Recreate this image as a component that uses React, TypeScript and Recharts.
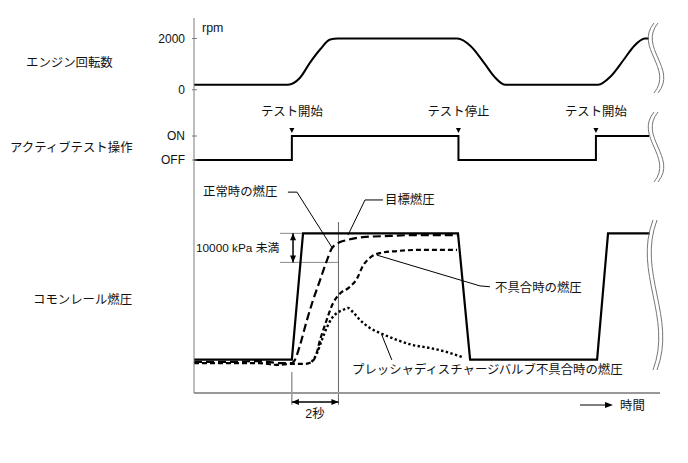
import { LineChart, Line, XAxis, YAxis, ReferenceLine, ReferenceDot } from 'recharts'

// ─── Data ─────────────────────────────────────────────────────────────────────

// time axis in seconds
const rpmTime = [0, 4.03, 4.55, 4.98, 5.41, 5.84, 6.18, 11.3, 11.88, 12.45, 12.88, 13.35, 17.35, 17.88, 18.45, 18.88, 19.35, 19.53]
const rpmValue = [200, 200, 470, 1060, 1570, 1960, 2000, 2000, 1700, 1050, 520, 200, 200, 520, 1180, 1700, 2000, 2000]

const testTime = [0, 4.2, 11.35, 17.25, 19.53]
const testState = [0, 1, 0, 1, 1] // 0 = OFF, 1 = ON
const testEventTime = [4.2, 11.35, 17.25]
const testEventLabel = ['テスト開始', 'テスト停止', 'テスト開始']

// common rail pressure, kPa
const targetTime = [0, 4.2, 4.68, 11.33, 11.85, 17.3, 17.77, 19.57]
const targetKpa = [34500, 34500, 78000, 78000, 34500, 34500, 78000, 78000]

const normalTime = [0, 1.5, 2.8, 3.7, 4.2, 4.33, 4.55, 4.85, 5.11, 5.41, 5.71, 5.92, 6.27, 6.57, 7.25, 8.4, 9.4, 11.33]
const normalKpa = [33700, 33700, 34000, 33300, 33300, 34400, 39500, 48200, 55000, 61900, 68800, 72900, 75000, 75700, 76700, 77100, 77400, 77400]

const faultTime = [0, 2.8, 3.55, 4.2, 4.75, 5.05, 5.24, 5.41, 5.62, 5.97, 6.27, 6.65, 7.0, 7.25, 7.55, 7.98, 8.7, 9.7, 11.29]
const faultKpa = [33300, 33300, 32700, 33000, 33000, 33700, 36100, 41300, 46400, 54000, 57300, 59300, 62500, 66800, 69600, 71200, 71900, 72300, 72300]

const pdvTime = [5.05, 5.28, 5.49, 5.71, 5.92, 6.14, 6.39, 6.61, 6.82, 7.12, 7.55, 7.98, 8.71, 9.4, 10.13, 10.86, 11.5]
const pdvKpa = [33700, 36800, 41300, 45700, 48800, 50600, 51600, 52300, 50900, 48200, 45400, 43700, 41300, 39500, 38500, 37100, 35400]

const rpmTicks = [0, 2000]
const testTicks = [0, 1]
const testTickLabel = ['OFF', 'ON']

const rpmData = rpmTime.map((t, i) => ({ t, v: rpmValue[i] }))
const testData = testTime.map((t, i) => ({ t, v: testState[i] }))
const targetData = targetTime.map((t, i) => ({ t, v: targetKpa[i] }))
const normalData = normalTime.map((t, i) => ({ t, v: normalKpa[i] }))
const faultData = faultTime.map((t, i) => ({ t, v: faultKpa[i] }))
const pdvData = pdvTime.map((t, i) => ({ t, v: pdvKpa[i] }))

// ─── Styles ──────────────────────────────────────────────────────────────────

const FONT = '"Liberation Sans", "Noto Sans CJK JP", sans-serif'
const AXIS = '#7d7d7d'
const DIM = '#8a8a8a'
const W = 688
const TIME_DOMAIN: [number, number] = [0, 20]
const MARGIN_R = 28
const AXIS_W = 194

// ─── Helpers ─────────────────────────────────────────────────────────────────

function makeTick(labelFor: (v: number) => string, size: number, gap: number) {
  return (p: any) => {
    const ax = p.x + size + gap
    return (
      <g>
        <line x1={ax - 2} x2={ax + 3} y1={p.y} y2={p.y} stroke={AXIS} />
        <text x={p.x} y={p.y} textAnchor="end" dominantBaseline="central" fontSize={12} fontFamily={FONT} fill="#111">
          {labelFor(p.payload.value)}
        </text>
      </g>
    )
  }
}

function arrow(both: boolean, color = '#000') {
  return (p: any) => {
    const { x1, y1, x2, y2 } = p
    const len = Math.hypot(x2 - x1, y2 - y1) || 1
    const ux = (x2 - x1) / len
    const uy = (y2 - y1) / len
    const head = (x: number, y: number, sx: number, sy: number) =>
      `${x},${y} ${x - sx * 7 - sy * 3},${y - sy * 7 + sx * 3} ${x - sx * 7 + sy * 3},${y - sy * 7 - sx * 3}`
    return (
      <g>
        <line x1={x1} y1={y1} x2={x2} y2={y2} stroke={color} strokeWidth={1.5} />
        <polygon points={head(x2, y2, ux, uy)} fill={color} />
        {both && <polygon points={head(x1, y1, -ux, -uy)} fill={color} />}
      </g>
    )
  }
}

function squiggle(x: number, y0: number, y1: number) {
  const h = y1 - y0
  const d = (dx: number) =>
    `M ${x + dx} ${y0} C ${x + dx - 20} ${y0 + h * 0.35}, ${x + dx + 20} ${y0 + h * 0.65}, ${x + dx} ${y1}`
  return (
    <g fill="none" stroke="#777" strokeWidth={1}>
      <path d={d(0)} />
      <path d={d(4)} />
    </g>
  )
}

const seg = (a: [number, number], b: [number, number]) => [
  { x: a[0], y: a[1] },
  { x: b[0], y: b[1] },
]

// ─── Component ────────────────────────────────────────────────────────────────

export default function App() {
  const txt = { fontSize: 12.4, fontFamily: FONT, fill: '#111', dominantBaseline: 'central' as const }

  return (
    <div style={{ position: 'absolute', left: 0, top: 0, width: W, height: 463, background: '#fff' }}>
      {/* engine speed */}
      <div style={{ position: 'absolute', left: 0, top: 0 }}>
        <LineChart width={W} height={100} margin={{ top: 18, right: MARGIN_R, bottom: 0, left: 0 }}>
          <XAxis type="number" dataKey="t" domain={TIME_DOMAIN} allowDataOverflow hide />
          <YAxis
            type="number"
            domain={[-400, 2800]}
            allowDataOverflow
            ticks={rpmTicks}
            width={AXIS_W}
            tickSize={2}
            tickMargin={7}
            tickLine={false}
            axisLine={{ stroke: AXIS }}
            tick={makeTick((v) => String(v), 2, 7)}
          />
          <Line data={rpmData} dataKey="v" type="monotone" stroke="#000" strokeWidth={2} dot={false} isAnimationActive={false} />
        </LineChart>
      </div>

      {/* active test */}
      <div style={{ position: 'absolute', left: 0, top: 100 }}>
        <LineChart width={W} height={84} margin={{ top: 0, right: MARGIN_R, bottom: 0, left: 0 }}>
          <XAxis type="number" dataKey="t" domain={TIME_DOMAIN} allowDataOverflow hide />
          <YAxis
            type="number"
            domain={[-1, 2.5]}
            allowDataOverflow
            ticks={testTicks}
            width={AXIS_W}
            tickSize={2}
            tickMargin={7}
            tickLine={false}
            axisLine={{ stroke: AXIS }}
            tick={makeTick((v) => testTickLabel[v], 2, 7)}
          />
          <Line data={testData} dataKey="v" type="stepAfter" stroke="#000" strokeWidth={2} dot={false} isAnimationActive={false} />
          {testEventTime.map((t, i) => (
            <ReferenceDot
              key={i}
              x={t}
              y={1}
              ifOverflow="visible"
              shape={(p: any) => (
                <g>
                  <polygon points={`${p.cx - 2.5},${p.cy - 8} ${p.cx + 2.5},${p.cy - 8} ${p.cx},${p.cy - 3}`} fill="#000" />
                  <text x={p.cx} y={p.cy - 24} textAnchor="middle" {...txt}>
                    {testEventLabel[i]}
                  </text>
                </g>
              )}
            />
          ))}
        </LineChart>
      </div>

      {/* common rail pressure */}
      <div style={{ position: 'absolute', left: 0, top: 184 }}>
        <LineChart width={W} height={279} margin={{ top: 0, right: MARGIN_R, bottom: 50, left: 0 }}>
          <XAxis
            type="number"
            dataKey="t"
            domain={TIME_DOMAIN}
            allowDataOverflow
            height={20}
            tick={false}
            tickLine={false}
            axisLine={{ stroke: '#999', strokeWidth: 2 }}
          />
          <YAxis
            type="number"
            domain={[23000, 95000]}
            allowDataOverflow
            width={AXIS_W}
            tick={false}
            tickLine={false}
            axisLine={{ stroke: AXIS }}
          />

          {/* 10000 kPa dimension */}
          <ReferenceLine segment={seg([3.69, 78000], [4.68, 78000])} stroke={DIM} ifOverflow="visible" />
          <ReferenceLine segment={seg([3.69, 68000], [6.2, 68000])} stroke={DIM} ifOverflow="visible" />
          <ReferenceLine segment={seg([4.25, 78000], [4.25, 68000])} ifOverflow="visible" shape={arrow(true)} />
          {/* 2 s dimension */}
          <ReferenceLine segment={seg([6.2, 81900], [6.2, 18900])} stroke="#666" ifOverflow="visible" />
          <ReferenceLine segment={seg([4.2, 30200], [4.2, 18900])} stroke="#666" ifOverflow="visible" />
          <ReferenceLine segment={seg([4.2, 19900], [6.2, 19900])} ifOverflow="visible" shape={arrow(true)} />

          {/* leaders */}
          <ReferenceLine segment={seg([4.03, 92200], [4.42, 92200])} stroke="#000" ifOverflow="visible" />
          <ReferenceLine segment={seg([4.42, 92200], [5.94, 72900])} stroke="#000" ifOverflow="visible" />
          <ReferenceLine segment={seg([8.11, 89500], [7.34, 89500])} stroke="#000" ifOverflow="visible" />
          <ReferenceLine segment={seg([7.34, 89500], [6.61, 77400])} stroke="#000" ifOverflow="visible" />
          <ReferenceLine segment={seg([7.85, 70500], [12.27, 59900])} stroke="#000" ifOverflow="visible" />
          <ReferenceLine segment={seg([12.27, 59900], [12.7, 59600])} stroke="#000" ifOverflow="visible" />
          <ReferenceLine segment={seg([8.06, 43000], [8.49, 34400])} stroke="#000" ifOverflow="visible" />

          <Line data={targetData} dataKey="v" type="linear" stroke="#000" strokeWidth={2.2} dot={false} isAnimationActive={false} />
          <Line data={normalData} dataKey="v" type="monotone" stroke="#000" strokeWidth={2.2} strokeDasharray="8 4" dot={false} isAnimationActive={false} />
          <Line data={faultData} dataKey="v" type="monotone" stroke="#000" strokeWidth={2.2} strokeDasharray="5 3" dot={false} isAnimationActive={false} />
          <Line data={pdvData} dataKey="v" type="monotone" stroke="#000" strokeWidth={2.4} strokeDasharray="2.4 2.4" dot={false} isAnimationActive={false} />
        </LineChart>
      </div>

      {/* texts and decorations */}
      <svg width={W} height={463} style={{ position: 'absolute', left: 0, top: 0, pointerEvents: 'none' }}>
        <text x={26} y={63} {...txt}>エンジン回転数</text>
        <text x={10} y={148} {...txt}>アクティブテスト操作</text>
        <text x={33} y={300} {...txt}>コモンレール燃圧</text>

        <text x={202} y={28} {...txt}>rpm</text>
        <text x={203} y={192} {...txt}>正常時の燃圧</text>
        <text x={385} y={200} {...txt}>目標燃圧</text>
        <text x={196} y={248} {...txt} fontSize={11.8}>10000 kPa 未満</text>
        <text x={495} y={288} {...txt}>不具合時の燃圧</text>
        <text x={352} y={370} {...txt}>プレッシャディスチャージバルブ不具合時の燃圧</text>
        <text x={315} y={414} textAnchor="middle" {...txt}>2秒</text>

        <line x1={580} y1={405} x2={606} y2={405} stroke="#000" />
        <polygon points="613,405 605,402 605,408" fill="#000" />
        <text x={620} y={406} {...txt}>時間</text>

        {squiggle(654, 23, 93)}
        {squiggle(654, 112, 182)}
        {squiggle(653, 220, 370)}
      </svg>
    </div>
  )
}
